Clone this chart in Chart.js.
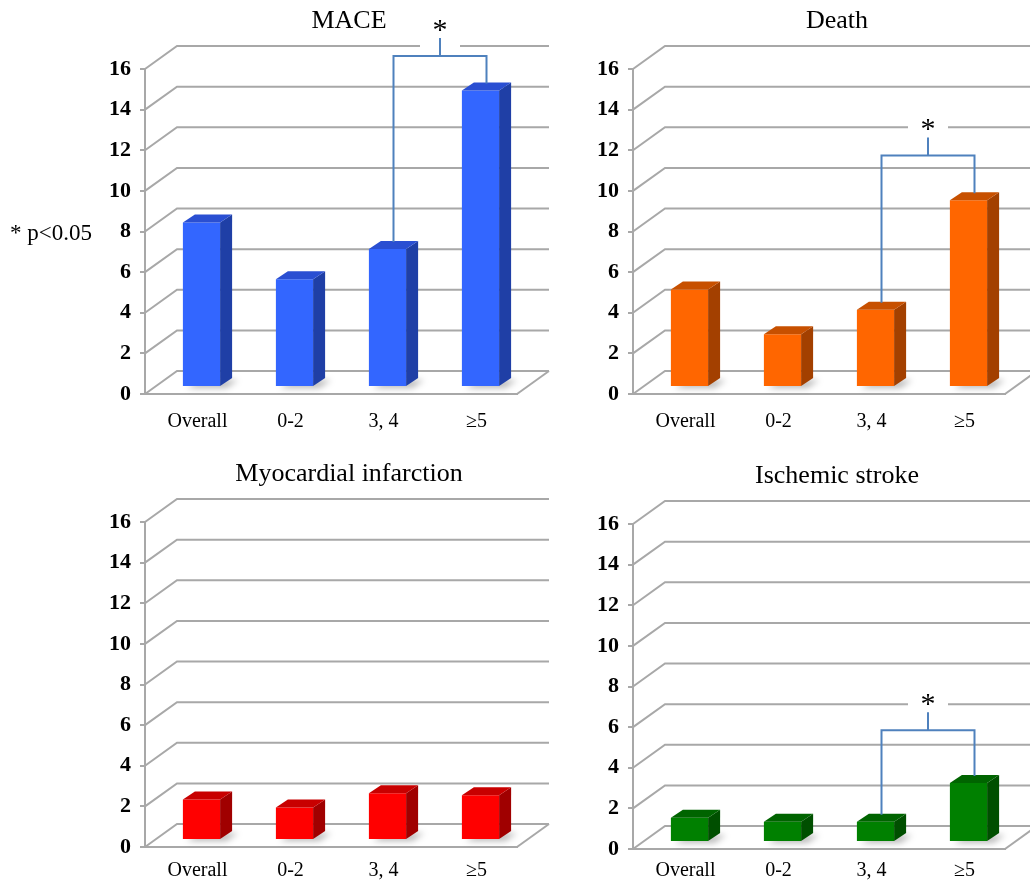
<!DOCTYPE html>
<html>
<head>
<meta charset="utf-8">
<title>Event rates by score group</title>
<script src="https://cdn.jsdelivr.net/npm/chart.js@4.4.1/dist/chart.umd.min.js"></script>
<style>
  html, body { margin: 0; padding: 0; background: #ffffff; }
  #wrap { position: relative; width: 1030px; height: 883px; overflow: hidden; background: #ffffff; }
  .panel { position: absolute; }
  .panel canvas { display: block; }
  #note { position: absolute; left: 10px; top: 219px; font: 23px "Liberation Serif", "Times New Roman", serif; color: #000; white-space: nowrap; line-height: 28px; }
</style>
</head>
<body>
<div id="wrap">
  <div class="panel" style="left:0px;top:0px;"><canvas id="c0" width="560" height="440"></canvas></div>
  <div class="panel" style="left:560px;top:0px;"><canvas id="c1" width="470" height="440"></canvas></div>
  <div class="panel" style="left:0px;top:440px;"><canvas id="c2" width="560" height="443"></canvas></div>
  <div class="panel" style="left:560px;top:440px;"><canvas id="c3" width="470" height="443"></canvas></div>
  <div id="note">* p&lt;0.05</div>
</div>
<script>
// ---- data ----
const categories = ['Overall', '0-2', '3, 4', '\u22655'];
const maceValues = [8.1, 5.3, 6.8, 14.6];
const deathValues = [4.8, 2.6, 3.8, 9.2];
const miValues = [2.0, 1.6, 2.3, 2.2];
const strokeValues = [1.2, 1.0, 1.0, 2.9];
const yMin = 0, yMax = 16, yStep = 2;
const panelTitles = ['MACE', 'Death', 'Myocardial infarction', 'Ischemic stroke'];
// significance brackets: bar indices joined and the level of the bracket
const maceBracket = { from: 2, to: 3, level: 16.3 };
const deathBracket = { from: 2, to: 3, level: 11.4 };
const strokeBracket = { from: 2, to: 3, level: 5.5 };

// ---- styling ----
const SERIF = '"Liberation Serif", "Times New Roman", serif';
const GRID_COLOR = '#a8a8a8';
const BRACKET_COLOR = '#4f81bd';
const DEPTH = { x: 32, y: -23 };      // offset of the back wall from the front plane
const BAR_SHIFT = { x: 10, y: -7 };   // bars stand in the middle of the floor
const BAR_DEPTH = { x: 12, y: -8 };   // thickness of each bar
const shades = {
  blue:   { front: '#3366ff', side: '#1f3fa6', top: '#2a4fd2' },
  orange: { front: '#ff6600', side: '#a34000', top: '#c75000' },
  red:    { front: '#ff0000', side: '#a00000', top: '#c80000' },
  green:  { front: '#008000', side: '#004f00', top: '#006400' }
};

const panels = [
  { id: 'c0', title: panelTitles[0], values: maceValues, shade: shades.blue, bracket: maceBracket,
    yWidth: 145, padRight: 43, padTop: 69, xHeight: 46, labelPad: 16 },
  { id: 'c1', title: panelTitles[1], values: deathValues, shade: shades.orange, bracket: deathBracket,
    yWidth: 73, padRight: 25, padTop: 69, xHeight: 46, labelPad: 16 },
  { id: 'c2', title: panelTitles[2], values: miValues, shade: shades.red, bracket: null,
    yWidth: 145, padRight: 43, padTop: 82, xHeight: 36, labelPad: 12 },
  { id: 'c3', title: panelTitles[3], values: strokeValues, shade: shades.green, bracket: strokeBracket,
    yWidth: 73, padRight: 25, padTop: 84, xHeight: 34, labelPad: 10 }
];

function poly(ctx, pts, fill) {
  ctx.beginPath();
  ctx.moveTo(pts[0][0], pts[0][1]);
  for (let i = 1; i < pts.length; i++) ctx.lineTo(pts[i][0], pts[i][1]);
  ctx.closePath();
  ctx.fillStyle = fill;
  ctx.fill();
}

// Draws the 3D room (back wall, floor), the bar sides/tops, brackets and titles
const room3d = {
  id: 'room3d',
  beforeDatasetsDraw(chart, args, opts) {
    const { ctx, chartArea: a, scales: { y } } = chart;
    ctx.save();
    ctx.strokeStyle = GRID_COLOR;
    ctx.lineWidth = 2;
    ctx.lineCap = 'butt';
    for (let v = yMin; v <= yMax; v += yStep) {
      const py = y.getPixelForValue(v);
      ctx.beginPath();
      ctx.moveTo(a.left, py);
      ctx.lineTo(a.left + DEPTH.x, py + DEPTH.y);
      ctx.lineTo(a.right + DEPTH.x, py + DEPTH.y);
      ctx.stroke();
    }
    // right edge of the floor
    ctx.beginPath();
    ctx.moveTo(a.right, a.bottom);
    ctx.lineTo(a.right + DEPTH.x, a.bottom + DEPTH.y);
    ctx.stroke();

    // soft shadows of the bars on the floor
    const meta = chart.getDatasetMeta(0);
    ctx.filter = 'blur(3px)';
    meta.data.forEach(el => {
      const p = el.getProps(['x', 'base', 'width'], true);
      const l = p.x - p.width / 2 + BAR_SHIFT.x, r = p.x + p.width / 2 + BAR_SHIFT.x;
      const b = p.base + BAR_SHIFT.y;
      poly(ctx, [[l + 4, b + 2], [r + 6, b + 2], [r + BAR_DEPTH.x + 6, b + BAR_DEPTH.y + 2],
                 [l + BAR_DEPTH.x + 4, b + BAR_DEPTH.y + 2]], 'rgba(0,0,0,0.28)');
    });
    ctx.filter = 'none';
    ctx.restore();

    ctx.save();
    ctx.translate(BAR_SHIFT.x, BAR_SHIFT.y);
  },
  afterDatasetsDraw(chart, args, opts) {
    const { ctx } = chart;
    const meta = chart.getDatasetMeta(0);
    meta.data.forEach(el => {
      const p = el.getProps(['x', 'y', 'base', 'width'], true);
      const l = p.x - p.width / 2, r = p.x + p.width / 2;
      poly(ctx, [[r, p.y], [r + BAR_DEPTH.x, p.y + BAR_DEPTH.y], [r + BAR_DEPTH.x, p.base + BAR_DEPTH.y], [r, p.base]], opts.shade.side);
      poly(ctx, [[l, p.y], [l + BAR_DEPTH.x, p.y + BAR_DEPTH.y], [r + BAR_DEPTH.x, p.y + BAR_DEPTH.y], [r, p.y]], opts.shade.top);
    });
    ctx.restore();
  },
  afterDraw(chart, args, opts) {
    const { ctx, chartArea: a, scales: { y } } = chart;
    // title, centred over the room
    ctx.save();
    ctx.fillStyle = '#000';
    ctx.font = '26px ' + SERIF;
    ctx.textAlign = 'center';
    ctx.textBaseline = 'alphabetic';
    ctx.fillText(opts.title, (a.left + a.right + DEPTH.x) / 2 + 2, a.top - 41);
    ctx.restore();

    const br = opts.bracket;
    if (!br) return;
    const meta = chart.getDatasetMeta(0);
    const legX = i => meta.data[i].x + BAR_SHIFT.x + BAR_DEPTH.x / 2;
    const legY = i => meta.data[i].y + BAR_SHIFT.y + BAR_DEPTH.y / 2 - 3;
    const x1 = legX(br.from), x2 = legX(br.to);
    const hy = y.getPixelForValue(br.level) + BAR_SHIFT.y;
    const mx = (x1 + x2) / 2;
    const tickTop = hy - 18;
    const starY = tickTop - 12;
    ctx.save();
    // clear the wall line behind the asterisk
    ctx.fillStyle = '#ffffff';
    ctx.fillRect(mx - 20, starY - 12, 40, hy - 3 - (starY - 12));
    ctx.strokeStyle = BRACKET_COLOR;
    ctx.lineWidth = 2;
    ctx.beginPath();
    ctx.moveTo(x1, legY(br.from));
    ctx.lineTo(x1, hy);
    ctx.lineTo(x2, hy);
    ctx.lineTo(x2, legY(br.to));
    ctx.moveTo(mx, hy);
    ctx.lineTo(mx, tickTop);
    ctx.stroke();
    ctx.fillStyle = '#000';
    ctx.font = '30px ' + SERIF;
    ctx.textAlign = 'center';
    ctx.textBaseline = 'middle';
    ctx.fillText('*', mx, starY + 5);
    ctx.restore();
  }
};

panels.forEach(pn => {
  new Chart(document.getElementById(pn.id), {
    type: 'bar',
    data: {
      labels: categories,
      datasets: [{
        data: pn.values,
        backgroundColor: pn.shade.front,
        borderWidth: 0,
        categoryPercentage: 1.0,
        barPercentage: 0.4,
        clip: false
      }]
    },
    options: {
      responsive: false,
      animation: false,
      events: [],
      layout: { padding: { left: 0, right: pn.padRight, top: pn.padTop, bottom: 0 } },
      plugins: {
        legend: { display: false },
        tooltip: { enabled: false },
        title: { display: false },
        room3d: { title: pn.title, shade: pn.shade, bracket: pn.bracket }
      },
      scales: {
        x: {
          offset: true,
          grid: { display: false, drawTicks: false },
          border: { display: true, color: GRID_COLOR, width: 2 },
          ticks: { color: '#000', font: { family: SERIF, size: 20 }, padding: pn.labelPad, labelOffset: 6, maxRotation: 0, autoSkip: false },
          afterFit: s => { s.height = pn.xHeight; }
        },
        y: {
          min: yMin, max: yMax,
          grid: { display: true, drawOnChartArea: false, drawTicks: true, tickLength: 5, color: GRID_COLOR, lineWidth: 2 },
          border: { display: true, color: GRID_COLOR, width: 2 },
          ticks: { stepSize: yStep, color: '#000', font: { family: SERIF, size: 22, weight: 'bold' }, padding: 9 },
          afterFit: s => { s.width = pn.yWidth; }
        }
      }
    },
    plugins: [room3d]
  });
});
</script>
</body>
</html>
